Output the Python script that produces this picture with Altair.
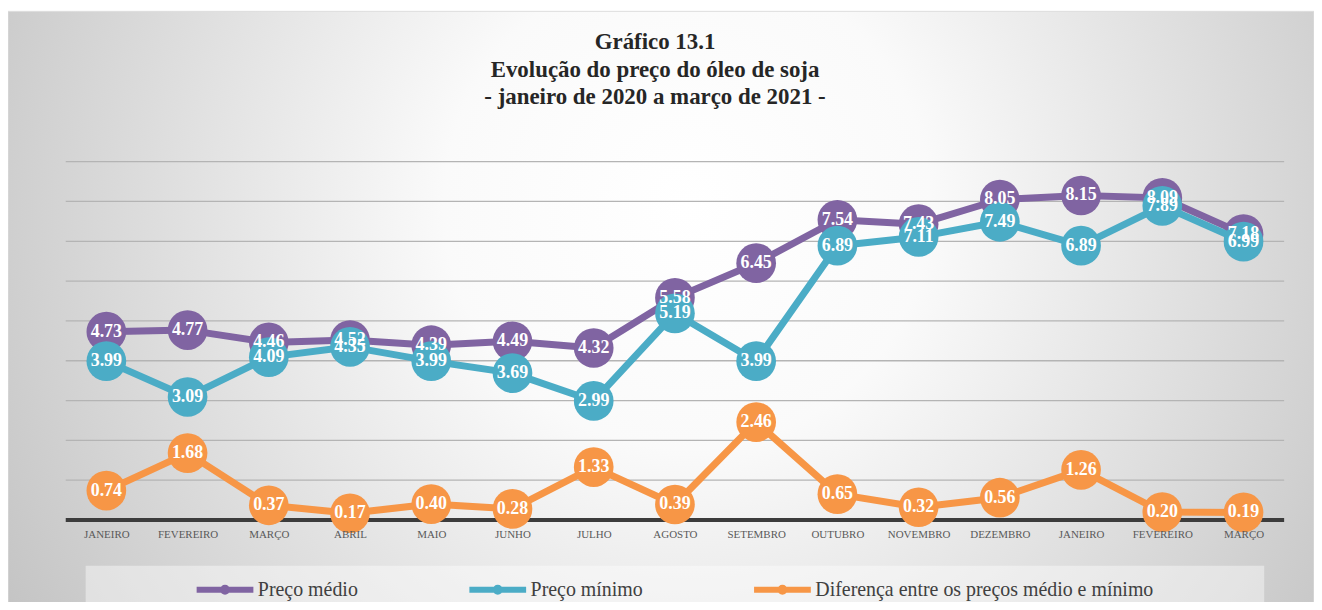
import altair as alt
import pandas as pd

# ---- data ----
months = ["JANEIRO", "FEVEREIRO", "MARÇO", "ABRIL", "MAIO", "JUNHO", "JULHO",
          "AGOSTO", "SETEMBRO", "OUTUBRO", "NOVEMBRO", "DEZEMBRO",
          "JANEIRO", "FEVEREIRO", "MARÇO"]
preco_medio = [4.73, 4.77, 4.46, 4.52, 4.39, 4.49, 4.32, 5.58, 6.45, 7.54, 7.43, 8.05, 8.15, 8.09, 7.18]
preco_minimo = [3.99, 3.09, 4.09, 4.35, 3.99, 3.69, 2.99, 5.19, 3.99, 6.89, 7.11, 7.49, 6.89, 7.89, 6.99]
diferenca = [0.74, 1.68, 0.37, 0.17, 0.40, 0.28, 1.33, 0.39, 2.46, 0.65, 0.32, 0.56, 1.26, 0.20, 0.19]
series_names = ["Preço médio", "Preço mínimo", "Diferença entre os preços médio e mínimo"]
series_colors = ["#8064A2", "#4BACC6", "#F79646"]
grid_values = [1, 2, 3, 4, 5, 6, 7, 8, 9]
title_lines = ["Gráfico 13.1", "Evolução do preço do óleo de soja",
               "- janeiro de 2020 a março de 2021 -"]

keys = [f"{m}|{i}" for i, m in enumerate(months)]
rows = []
for s_idx, (name, vals) in enumerate(zip(series_names, [preco_medio, preco_minimo, diferenca])):
    for k, v in zip(keys, vals):
        rows.append({"key": k, "series": name, "s": s_idx, "value": v})
df = pd.DataFrame(rows)

W, H = 1224, 360
PAD = {"left": 58, "top": 153, "right": 30, "bottom": 81}
FONT = "Liberation Serif"

yscale = alt.Scale(domain=[0, 9], nice=False, zero=True)
xscale = alt.Scale(type="point", padding=0.5, domain=keys)
xaxis = alt.Axis(title=None, domain=False, ticks=False, grid=False,
                 labelAngle=0, labelFont=FONT, labelFontSize=11,
                 labelColor="#595959", labelPadding=9, zindex=1,
                 labelExpr="split(datum.label, '|')[0]")
xenc = alt.X("key:N", scale=xscale, axis=xaxis)
yenc = alt.Y("value:Q", scale=yscale, axis=None)

legend_path = ("M-1,0L1,0M-0.07,0A0.07,0.07,0,1,1,0.07,0"
               "A0.07,0.07,0,1,1,-0.07,0Z")
legend = alt.Legend(title=None, orient="none", legendX=128, legendY=398,
                    direction="horizontal", symbolType=legend_path,
                    symbolSize=3250, symbolStrokeWidth=6, labelFont=FONT,
                    labelFontSize=20, labelColor="#404040", labelLimit=0,
                    columnPadding=99, labelOffset=1)
color_enc = alt.Color("series:N", scale=alt.Scale(domain=series_names, range=series_colors),
                      legend=legend)
fill_enc = alt.Fill("series:N", scale=alt.Scale(domain=series_names, range=series_colors),
                    legend=None)

one = pd.DataFrame({"a": [0]})

bg = alt.Chart(one).mark_rect(
    fill={"gradient": "radial",
          "stops": [{"offset": 0, "color": "#ffffff"},
                    {"offset": 0.3, "color": "#fafafa"},
                    {"offset": 1, "color": "#c2c2c2"}],
          "x1": 0.52, "y1": 0.42, "r1": 0, "x2": 0.52, "y2": 0.42, "r2": 0.62},
    stroke="#dedede", strokeWidth=1
).encode(x=alt.value(-58), x2=alt.value(W + 30), y=alt.value(-151), y2=alt.value(H + 90))

legend_box = alt.Chart(one).mark_rect(fill="#ffffff", opacity=0.42).encode(
    x=alt.value(20), x2=alt.value(1204), y=alt.value(406), y2=alt.value(H + 90))

grid = alt.Chart(pd.DataFrame({"v": grid_values})).mark_rule(
    color="#b4b4b4", strokeWidth=1.3).encode(y=alt.Y("v:Q", scale=yscale, axis=None))

baseline = alt.Chart(pd.DataFrame({"v": [0]})).mark_rule(
    color="#3c3c3c", strokeWidth=4).encode(y=alt.Y("v:Q", scale=yscale, axis=None))

layers = [bg, legend_box, grid, baseline]
for name in series_names:
    base = alt.Chart(df).transform_filter(alt.datum.series == name)
    line = base.mark_line(strokeWidth=7, strokeJoin="round", strokeCap="round").encode(
        x=xenc, y=yenc, color=color_enc)
    pts = base.mark_circle(size=1590, opacity=1).encode(x=xenc, y=yenc, fill=fill_enc)
    layers += [line, pts]

labels = alt.Chart(df).mark_text(
    font=FONT, fontSize=18, fontWeight="bold", color="#ffffff",
    align="center", baseline="middle").encode(
    x=xenc, y=yenc, text=alt.Text("value:Q", format=".2f"))
layers.append(labels)

chart = alt.layer(*layers).properties(
    width=W, height=H,
    autosize=alt.AutoSizeParams(type="none"),
    padding=PAD,
    background="#ffffff",
    title=alt.TitleParams(text=title_lines, font=FONT, fontSize=23, fontWeight="bold",
                          color="#262626", anchor="middle", frame="group", dx=-20,
                          offset=-99, lineHeight=28),
).configure_view(stroke=None)

chart.save("out.html", embed_options={"renderer": "svg", "actions": False})
